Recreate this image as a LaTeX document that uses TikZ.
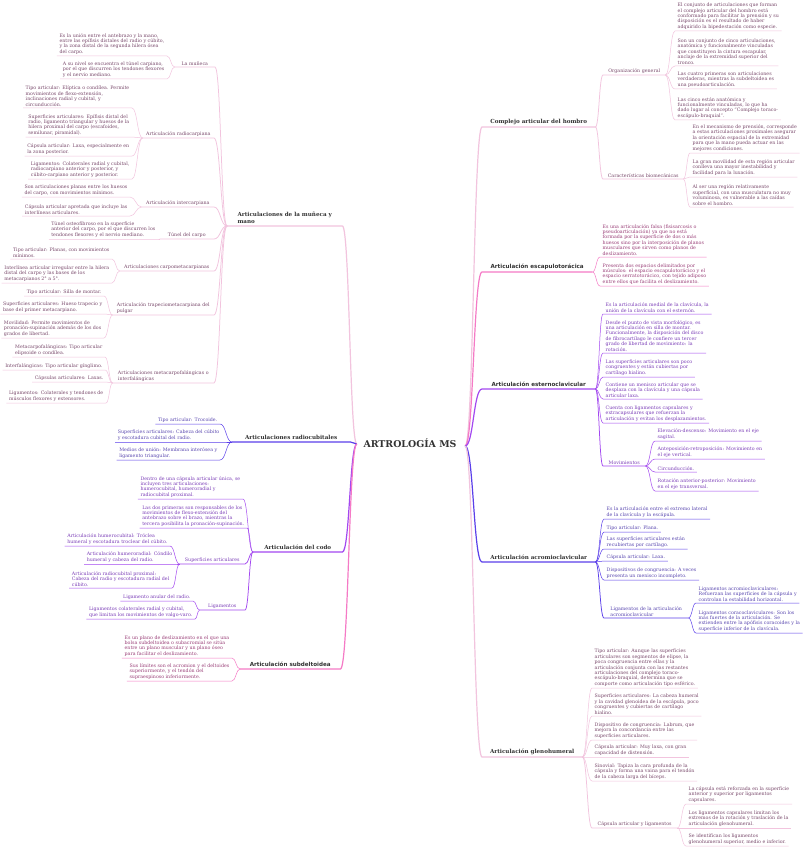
\documentclass[tikz,border=0pt]{standalone}
\usepackage{fontspec}
\setmainfont{DejaVu Serif}
\newfontfamily\sansf{DejaVu Sans}
\usetikzlibrary{calc}
\definecolor{lpk}{HTML}{F2C4DE}
\definecolor{lpkT}{HTML}{7A4A6C}
\definecolor{pk}{HTML}{F57AC6}
\definecolor{pkT}{HTML}{9A3F78}
\definecolor{pu}{HTML}{A348F0}
\definecolor{puT}{HTML}{7C3FB8}
\definecolor{ind}{HTML}{5B3FEA}
\definecolor{indT}{HTML}{5A48B0}
\definecolor{mtc}{HTML}{333333}
% left-side node: [opts]{linestyle}{colour}{name}{parent}{x,y of underline right end}{text}
\newcommand\LN[7][]{%
  \node[tx,text=#3T,anchor=south east,#1] (#4) at (#6) {#7};
  \draw[#2=#3] (#4.south west) -- (#4.south east) to[cc] (#5.south west);}
% right-side node: [opts]{linestyle}{colour}{name}{parent}{x,y of underline left end}{text}
\newcommand\RN[7][]{%
  \node[tx,text=#3T,anchor=south west,#1] (#4) at (#6) {#7};
  \draw[#2=#3] (#5.south east) to[cc] (#4.south west) -- (#4.south east);}
\begin{document}
\begin{tikzpicture}[x=1pt,y=-1pt,
  tx/.style={font=\fontsize{4.75}{5.4}\selectfont, align=left, inner xsep=2.5pt, inner ysep=1.6pt},
  mt/.style={font=\fontsize{5.6}{7}\selectfont\bfseries, text=mtc, align=left, inner xsep=3pt, inner ysep=2pt},
  mts/.style={mt, font=\fontsize{5.6}{7}\selectfont\sansf\bfseries},
  dotz/.style={inner sep=0pt, minimum size=0pt},
  cc/.style={to path={let \p1=(\tikztostart), \p2=(\tikztotarget) in
     .. controls ({0.5*\x1+0.5*\x2},\y1) and ({0.5*\x1+0.5*\x2},\y2) .. (\tikztotarget)}},
  lf/.style={draw=#1, line width=0.5pt},
  md/.style={draw=#1, line width=0.75pt},
  mn/.style={draw=#1, line width=1.2pt},
]
\fill[white] (0,0) rectangle (804,848);
\useasboundingbox (0,0) rectangle (804,848);

\node[font=\fontsize{9.4}{11}\selectfont\bfseries, text=mtc] (ctr) at (410,443) {ARTROLOGÍA MS};
\node[dotz] (cl) at (357,444) {};
\node[dotz] (cr) at (465,446) {};

% ---------------- A: muñeca y mano
\node[mt, anchor=south west, minimum width=115pt] (A) at (227,226) {Articulaciones de la muñeca y\\mano};
\draw[mn=lpk] (A.south west) -- (A.south east) to[cc] (cl);

\LN[minimum width=40pt]{md}{lpk}{A1}{A}{215,67}{La muñeca}
\LN{lf}{lpk}{A1a}{A1}{167,56}{Es la unión entre el antebrazo y la mano,\\entre las epífisis distales del radio y cúbito,\\y la zona distal de la segunda hilera ósea\\del carpo.}
\LN{lf}{lpk}{A1b}{A1}{167,79}{A su nivel se encuentra el túnel carpiano,\\por el que discurren los tendones flexores\\y el nervio mediano.}

\LN[minimum width=71pt]{md}{lpk}{A2}{A}{214,138}{Articulación radiocarpiana}
\LN{lf}{lpk}{A2a}{A2}{132,108}{Tipo articular: Elíptica o condílea. Permite\\movimientos de flexo-extensión,\\inclinaciones radial y cubital, y\\circunducción.}
\LN{lf}{lpk}{A2b}{A2}{132,137}{Superficies articulares: Epífisis distal del\\radio, ligamento triangular y huesos de la\\hilera proximal del carpo (escafoides,\\semilunar, piramidal).}
\LN{lf}{lpk}{A2c}{A2}{132,156}{Cápsula articular: Laxa, especialmente en\\la zona posterior.}
\LN{lf}{lpk}{A2d}{A2}{132,179}{Ligamentos: Colaterales radial y cubital,\\radiocarpiano anterior y posterior, y\\cúbito-carpiano anterior y posterior.}

\LN[minimum width=72pt]{md}{lpk}{A3}{A}{214,207}{Articulación intercarpiana}
\LN{lf}{lpk}{A3a}{A3}{130,197}{Son articulaciones planas entre los huesos\\del carpo, con movimientos mínimos.}
\LN{lf}{lpk}{A3b}{A3}{130,216}{Cápsula articular apretada que incluye las\\interlíneas articulares.}

\LN[minimum width=54pt]{md}{lpk}{A4}{A}{214,239}{Túnel del carpo}
\LN{lf}{lpk}{A4a}{A4}{158,239}{Túnel osteofibroso en la superficie\\anterior del carpo, por el que discurren los\\tendones flexores y el nervio mediano.}

\LN[minimum width=94pt]{md}{lpk}{A5}{A}{214,271}{Articulaciones carpometacarpianas}
\LN{lf}{lpk}{A5a}{A5}{112,259}{Tipo articular: Planas, con movimientos\\mínimos.}
\LN{lf}{lpk}{A5b}{A5}{112,283}{Interlínea articular irregular entre la hilera\\distal del carpo y las bases de los\\metacarpianos 2° a 5°.}

\LN[minimum width=101pt]{md}{lpk}{A6}{A}{214,315}{Articulación trapeciometacarpiana del\\pulgar}
\LN{lf}{lpk}{A6a}{A6}{104,296}{Tipo articular: Silla de montar.}
\LN{lf}{lpk}{A6b}{A6}{105,314}{Superficies articulares: Hueso trapecio y\\base del primer metacarpiano.}
\LN{lf}{lpk}{A6c}{A6}{104,338}{Movilidad: Permite movimientos de\\pronación-supinación además de los dos\\grados de libertad.}

\LN[minimum width=101pt]{md}{lpk}{A7}{A}{214,383}{Articulaciones metacarpofalángicas o\\interfalángicas}
\LN{lf}{lpk}{A7a}{A7}{105,357}{Metacarpofalángicas: Tipo articular\\elipsoide o condílea.}
\LN{lf}{lpk}{A7b}{A7}{105,370}{Interfalángicas: Tipo articular gínglimo.}
\LN{lf}{lpk}{A7c}{A7}{106,382}{Cápsulas articulares: Laxas.}
\LN{lf}{lpk}{A7d}{A7}{106,403}{Ligamentos: Colaterales y tendones de\\músculos flexores y extensores.}

% ---------------- B: radiocubitales
\node[mt, anchor=south west, minimum width=118pt] (B) at (232,442) {Articulaciones radiocubitales};
\draw[mn=ind] (B.south west) -- (B.south east) to[cc] (cl);
\LN{lf}{ind}{B1}{B}{220,424}{Tipo articular: Trocoide.}
\LN{lf}{ind}{B2}{B}{222,442}{Superficies articulares: Cabeza del cúbito\\y escotadura cubital del radio.}
\LN{lf}{ind}{B3}{B}{220,460}{Medios de unión: Membrana interósea y\\ligamento triangular.}

% ---------------- C: codo
\node[mt, anchor=south west, minimum width=89pt] (C) at (253,552) {Articulación del codo};
\draw[mn=pu] (C.south west) -- (C.south east) to[cc] (cl);
\LN{lf}{pu}{C1}{C}{243,499}{Dentro de una cápsula articular única, se\\incluyen tres articulaciones:\\humerocubital, humeroradial y\\radiocubital proximal.}
\LN{lf}{pu}{C2}{C}{247,528}{Las dos primeras son responsables de los\\movimientos de flexo-extensión del\\antebrazo sobre el brazo, mientras la\\tercera posibilita la pronación-supinación.}
\LN[minimum width=65pt]{md}{pu}{C3}{C}{245,564}{Superficies articulares}
\LN{lf}{pu}{C3a}{C3}{170,546}{Articulación humerocubital: Tróclea\\humeral y escotadura troclear del cúbito.}
\LN{lf}{pu}{C3b}{C3}{175,564}{Articulación humeroradial: Cóndilo\\humeral y cabeza del radio.}
\LN{lf}{pu}{C3c}{C3}{172,588}{Articulación radiocubital proximal:\\Cabeza del radio y escotadura radial del\\cúbito.}
\LN[minimum width=45pt]{md}{pu}{C4}{C}{245,610}{Ligamentos}
\LN{lf}{pu}{C4a}{C4}{193,601}{Ligamento anular del radio.}
\LN{lf}{pu}{C4b}{C4}{195,619}{Ligamentos colaterales radial y cubital,\\que limitan los movimientos de valgo-varo.}

% ---------------- D: subdeltoidea
\node[mts, anchor=south west, minimum width=100pt] (D) at (240,669) {Articulación subdeltoidea};
\draw[mn=pk] (D.south west) -- (D.south east) to[cc] (cl);
\LN{lf}{pk}{D1}{D}{232,658}{Es un plano de deslizamiento en el que una\\bolsa subdeltoidea o subacromial se sitúa\\entre un plano muscular y un plano óseo\\para facilitar el deslizamiento.}
\LN{lf}{pk}{D2}{D}{232,681}{Sus límites son el acromion y el deltoides\\superiormente, y el tendón del\\supraespinoso inferiormente.}

% ---------------- E: complejo articular del hombro
\node[mt, anchor=south west, minimum width=113pt] (E) at (482,127) {Complejo articular del hombro};
\draw[mn=lpk] (cr) to[cc] (E.south west) -- (E.south east);
\RN[minimum width=62pt]{md}{lpk}{E1}{E}{603,75}{Organización general}
\RN{lf}{lpk}{E1a}{E1}{675,31}{El conjunto de articulaciones que forman\\el complejo articular del hombro está\\conformado para facilitar la prensión y su\\disposición es el resultado de haber\\adquirido la bipedestación como especie.}
\RN{lf}{lpk}{E1b}{E1}{675,66}{Son un conjunto de cinco articulaciones,\\anatómica y funcionalmente vinculadas\\que constituyen la cintura escapular,\\anclaje de la extremidad superior del\\tronco.}
\RN{lf}{lpk}{E1c}{E1}{675,89}{Las cuatro primeras son articulaciones\\verdaderas, mientras la subdeltoidea es\\una pseudoarticulación.}
\RN{lf}{lpk}{E1d}{E1}{675,120}{Las cinco están anatómica y\\funcionalmente vinculadas, lo que ha\\dado lugar al concepto “Complejo toraco-\\escápulo-braquial”.}
\RN[minimum width=80pt]{md}{lpk}{E2}{E}{603,179}{Características biomecánicas}
\RN{lf}{lpk}{E2a}{E2}{690,153}{En el mecanismo de prensión, corresponde\\a estas articulaciones proximales asegurar\\la orientación espacial de la extremidad\\para que la mano pueda actuar en las\\mejores condiciones.}
\RN{lf}{lpk}{E2b}{E2}{690,177}{La gran movilidad de esta región articular\\conlleva una mayor inestabilidad y\\facilidad para la luxación.}
\RN{lf}{lpk}{E2c}{E2}{690,207}{Al ser una región relativamente\\superficial, con una musculatura no muy\\voluminosa, es vulnerable a las caídas\\sobre el hombro.}

% ---------------- F: escapulotorácica
\node[mts, anchor=south west, minimum width=110pt] (F) at (482,272) {Articulación escapulotorácica};
\draw[mn=pk] (cr) to[cc] (F.south west) -- (F.south east);
\RN{lf}{pk}{F1}{F}{600,257}{Es una articulación falsa (fisisarcosis o\\pseudoarticulación) ya que no está\\formada por la superficie de dos o más\\huesos sino por la interposición de planos\\musculares que sirven como planos de\\deslizamiento.}
\RN{lf}{pk}{F2}{F}{600,286}{Presenta dos espacios delimitados por\\músculos: el espacio escapulotorácico y el\\espacio serratotorácico, con tejido adiposo\\entre ellos que facilita el deslizamiento.}

% ---------------- G: esternoclavicular
\node[mts, anchor=south west, minimum width=113pt] (G) at (482,389) {Articulación esternoclavicular};
\draw[mn=pu] (cr) to[cc] (G.south west) -- (G.south east);
\RN{lf}{pu}{G1}{G}{603,314}{Es la articulación medial de la clavícula, la\\unión de la clavícula con el esternón.}
\RN{lf}{pu}{G2}{G}{603,353}{Desde el punto de vista morfológico, es\\una articulación en silla de montar.\\Funcionalmente, la disposición del disco\\de fibrocartílago le confiere un tercer\\grado de libertad de movimiento: la\\rotación.}
\RN{lf}{pu}{G3}{G}{603,377}{Las superficies articulares son poco\\congruentes y están cubiertas por\\cartílago hialino.}
\RN{lf}{pu}{G4}{G}{603,399}{Contiene un menisco articular que se\\desplaza con la clavícula y una cápsula\\articular laxa.}
\RN{lf}{pu}{G5}{G}{603,423}{Cuenta con ligamentos capsulares y\\extracapsulares que refuerzan la\\articulación y evitan los desplazamientos.}
\RN[minimum width=42pt]{md}{pu}{G6}{G}{603,466}{Movimientos}
\RN{lf}{pu}{G6a}{G6}{655,441}{Elevación-descenso: Movimiento en el eje\\sagital.}
\RN{lf}{pu}{G6b}{G6}{655,459}{Anteposición-retroposición: Movimiento en\\el eje vertical.}
\RN{lf}{pu}{G6c}{G6}{655,472}{Circunducción.}
\RN{lf}{pu}{G6d}{G6}{655,491}{Rotación anterior-posterior: Movimiento\\en el eje transversal.}

% ---------------- H: acromioclavicular
\node[mt, anchor=south west, minimum width=113pt] (H) at (482,562) {Articulación acromioclavicular};
\draw[mn=ind] (cr) to[cc] (H.south west) -- (H.south east);
\RN{lf}{ind}{H1}{H}{604,519}{Es la articulación entre el extremo lateral\\de la clavícula y la escápula.}
\RN{lf}{ind}{H2}{H}{604,532}{Tipo articular: Plana.}
\RN{lf}{ind}{H3}{H}{604,549}{Las superficies articulares están\\recubiertas por cartílago.}
\RN{lf}{ind}{H4}{H}{604,561}{Cápsula articular: Laxa.}
\RN{lf}{ind}{H5}{H}{604,580}{Dispositivos de congruencia: A veces\\presenta un menisco incompleto.}
\RN[minimum width=84pt]{md}{ind}{H6}{H}{604,618}{Ligamentos de la articulación\\acromioclavicular}
\RN{lf}{ind}{H6a}{H6}{696,603}{Ligamentos acromioclaviculares:\\Refuerzan las superficies de la cápsula y\\controlan la estabilidad horizontal.}
\RN{lf}{ind}{H6b}{H6}{696,633}{Ligamentos coracoclaviculares: Son los\\más fuertes de la articulación. Se\\extienden entre la apófisis coracoides y la\\superficie inferior de la clavícula.}

% ---------------- I: glenohumeral
\node[mt, anchor=south west, minimum width=100pt] (I) at (482,757) {Articulación glenohumeral};
\draw[mn=lpk] (cr) to[cc] (I.south west) -- (I.south east);
\RN{lf}{lpk}{I1}{I}{592,688}{Tipo articular: Aunque las superficies\\articulares son segmentos de elipse, la\\poca congruencia entre ellas y la\\articulación conjunta con las restantes\\articulaciones del complejo toraco-\\escápulo-braquial, determina que se\\comporte como articulación tipo esférico.}
\RN{lf}{lpk}{I2}{I}{592,716}{Superficies articulares: La cabeza humeral\\y la cavidad glenoidea de la escápula, poco\\congruentes y cubiertas de cartílago\\hialino.}
\RN{lf}{lpk}{I3}{I}{592,740}{Dispositivo de congruencia: Labrum, que\\mejora la concordancia entre las\\superficies articulares.}
\RN{lf}{lpk}{I4}{I}{592,757}{Cápsula articular: Muy laxa, con gran\\capacidad de distensión.}
\RN{lf}{lpk}{I5}{I}{592,781}{Sinovial: Tapiza la cara profunda de la\\cápsula y forma una vaina para el tendón\\de la cabeza larga del bíceps.}
\RN[minimum width=85pt]{md}{lpk}{I6}{I}{592,828}{Cápsula articular y ligamentos}
\RN{lf}{lpk}{I6a}{I6}{686,804}{La cápsula está reforzada en la superficie\\anterior y superior por ligamentos\\capsulares.}
\RN{lf}{lpk}{I6b}{I6}{686,828}{Los ligamentos capsulares limitan los\\extremos de la rotación y traslación de la\\articulación glenohumeral.}
\RN{lf}{lpk}{I6c}{I6}{686,846}{Se identifican los ligamentos\\glenohumeral superior, medio e inferior.}
\end{tikzpicture}
\end{document}
